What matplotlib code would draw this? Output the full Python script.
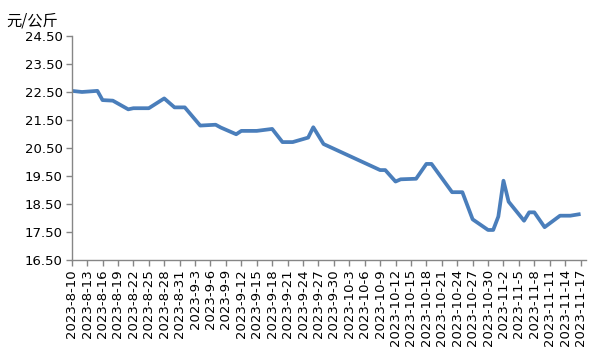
import matplotlib
matplotlib.use("Agg")
import matplotlib.pyplot as plt
import matplotlib.dates as mdates
import numpy as np
import datetime as dt

dates = ["2023-8-10", "2023-8-12", "2023-8-15", "2023-8-16", "2023-8-18", "2023-8-21",
         "2023-8-22", "2023-8-25", "2023-8-28", "2023-8-30", "2023-9-1", "2023-9-4",
         "2023-9-7", "2023-9-8", "2023-9-11", "2023-9-12", "2023-9-15", "2023-9-18",
         "2023-9-20", "2023-9-22", "2023-9-25", "2023-9-26", "2023-9-28", "2023-10-9",
         "2023-10-10", "2023-10-12", "2023-10-13", "2023-10-16", "2023-10-18", "2023-10-19",
         "2023-10-23", "2023-10-25", "2023-10-27", "2023-10-30", "2023-10-31", "2023-11-1",
         "2023-11-2", "2023-11-3", "2023-11-6", "2023-11-7", "2023-11-8", "2023-11-10",
         "2023-11-13", "2023-11-15", "2023-11-17"]
prices = [22.54, 22.50, 22.54, 22.21, 22.19, 21.88,
          21.92, 21.92, 22.27, 21.95, 21.95, 21.30,
          21.33, 21.23, 20.99, 21.11, 21.11, 21.18,
          20.71, 20.71, 20.87, 21.24, 20.64, 19.71,
          19.71, 19.30, 19.38, 19.40, 19.93, 19.93,
          18.92, 18.92, 17.95, 17.57, 17.57, 18.05,
          19.33, 18.58, 17.90, 18.20, 18.20, 17.67,
          18.08, 18.08, 18.14]
unit_label = "元/公斤"
y_ticks = [16.5, 17.5, 18.5, 19.5, 20.5, 21.5, 22.5, 23.5, 24.5]

x = [dt.datetime.strptime(d, "%Y-%m-%d") for d in dates]

fig = plt.figure(figsize=(6, 3.6), dpi=100)
ax = fig.add_axes([0.1195, 0.278, 0.9762 - 0.1195, 0.9 - 0.278])
ax.plot(x, prices, color="#4a7ebb", linewidth=2.7, solid_joinstyle="round", solid_capstyle="butt")

start = dt.datetime(2023, 8, 10)
end = dt.datetime(2023, 11, 18)
ax.set_xlim(start, end)
ax.set_ylim(16.5, 24.5)
ax.set_yticks(y_ticks)
ax.yaxis.set_major_formatter(matplotlib.ticker.FormatStrFormatter("%.2f"))

tick_dates = [start + dt.timedelta(days=3 * i) for i in range(34)]
ax.set_xticks(tick_dates)
ax.set_xticklabels([f"{d.year}-{d.month}-{d.day}" for d in tick_dates], rotation=90)

for s in ["top", "right"]:
    ax.spines[s].set_visible(False)
for s in ["left", "bottom"]:
    ax.spines[s].set_color("#868686")
    ax.spines[s].set_linewidth(1.0)
ax.tick_params(axis="both", direction="out", length=4.5, color="#868686", width=1.0,
               labelsize=9.5, labelcolor="black", pad=2)

fig.text(0.01, 0.943, unit_label, family=["Noto Sans CJK SC", "DejaVu Sans"], fontsize=11,
         va="center", ha="left")

fig.savefig("out.png", dpi=100)
